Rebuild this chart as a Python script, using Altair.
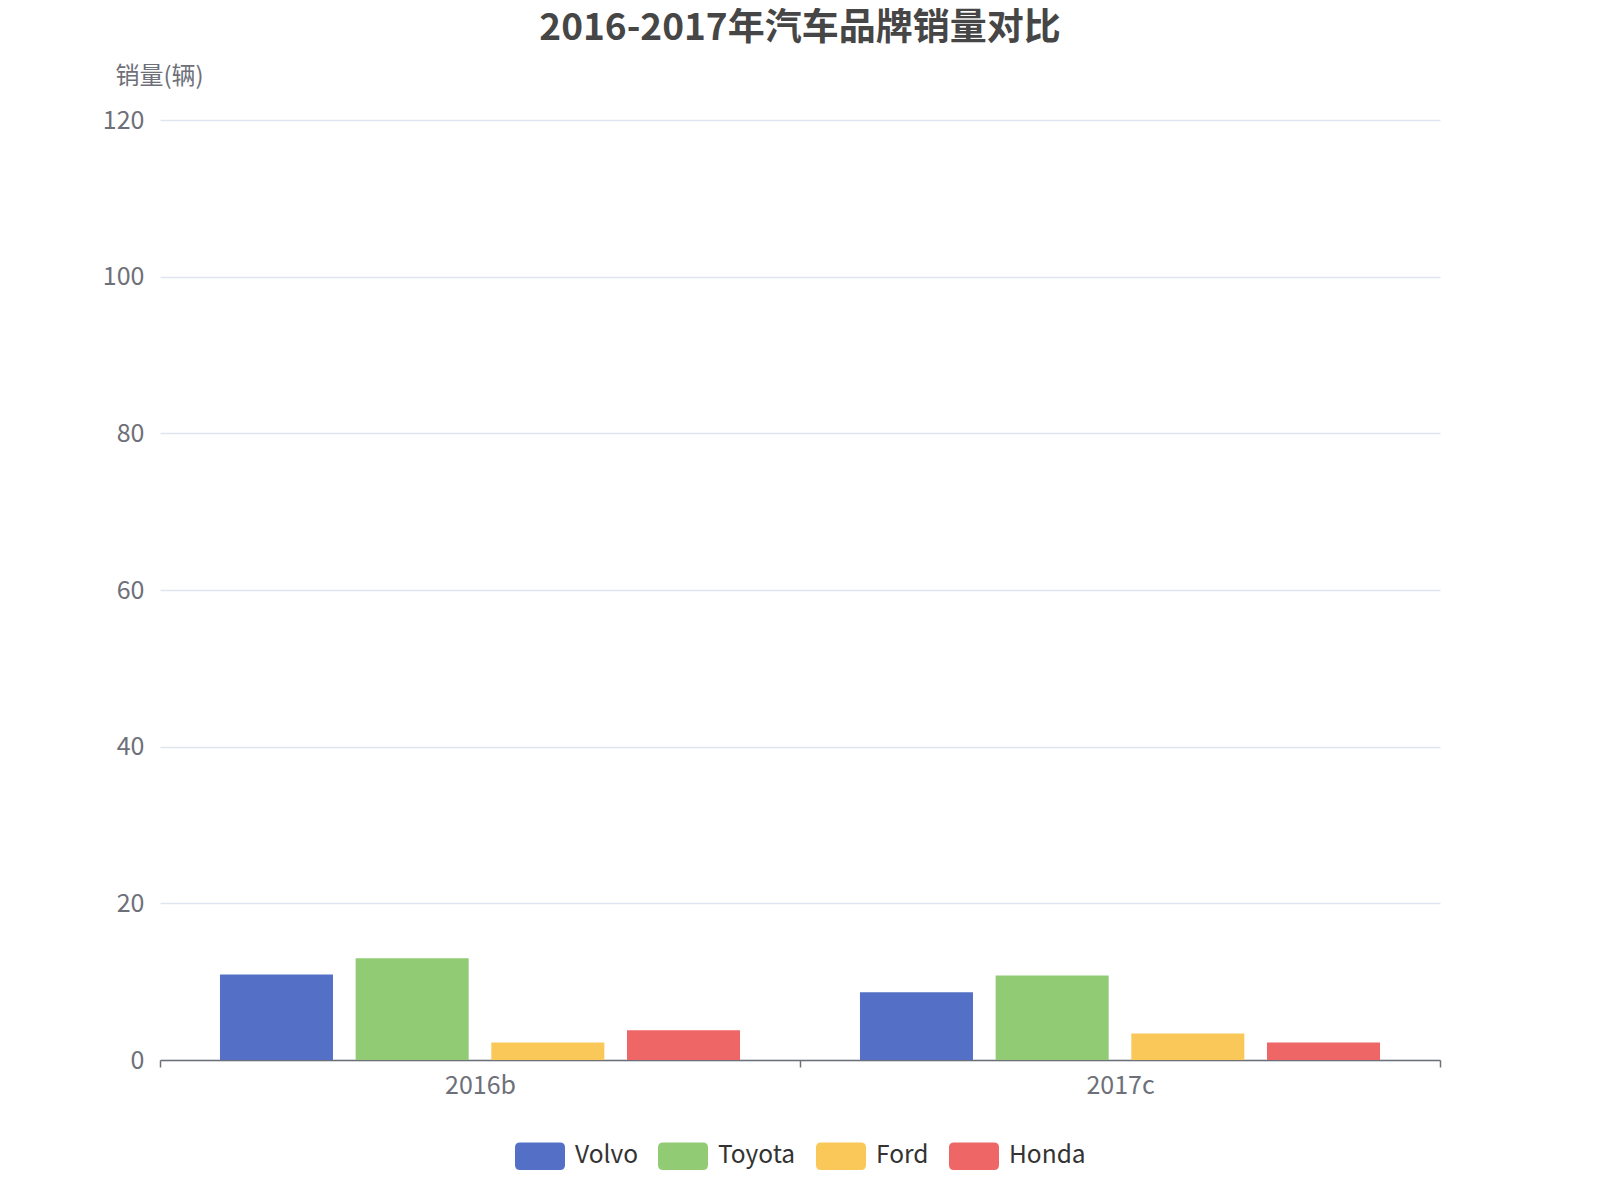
import altair as alt
import pandas as pd

years = ["2016b", "2017c"]
brands = ["Volvo", "Toyota", "Ford", "Honda"]
colors = ["#5470c6", "#91cc75", "#fac858", "#ee6666"]
sales_2016b = [10.9, 13.0, 2.24, 3.8]
sales_2017c = [8.65, 10.8, 3.38, 2.24]

rows = []
for y, vals in zip(years, [sales_2016b, sales_2017c]):
    for b, v in zip(brands, vals):
        rows.append({"year": y, "brand": b, "sales": v})
df = pd.DataFrame(rows)

FONT = "Noto Sans CJK SC"
rounded = ("M-0.8,-0.55 L0.8,-0.55 Q1,-0.55 1,-0.35 L1,0.35 Q1,0.55 0.8,0.55 "
           "L-0.8,0.55 Q-1,0.55 -1,0.35 L-1,-0.35 Q-1,-0.55 -0.8,-0.55 Z")

chart = alt.Chart(df).mark_bar().encode(
    x=alt.X("year:N", sort=years,
            scale=alt.Scale(paddingInner=0, paddingOuter=0),
            axis=alt.Axis(title=None, labelAngle=0, labelFontSize=25, labelColor="#6e7079",
                          labelFont=FONT, labelPadding=6, domainColor="#6e7079", domainWidth=1.5,
                          tickColor="#6e7079", tickSize=7, tickWidth=1.5, tickBand="extent",
                          grid=False)),
    xOffset=alt.XOffset("brand:N", sort=brands,
                        scale=alt.Scale(paddingInner=0.167, paddingOuter=0.442)),
    y=alt.Y("sales:Q", scale=alt.Scale(domain=[0, 120]),
            axis=alt.Axis(title="销量(辆)", values=[0, 20, 40, 60, 80, 100, 120],
                          titleAngle=0, titleX=-1, titleY=-44, titleAlign="center",
                          titleBaseline="middle", titleFontSize=24, titleFontWeight="normal",
                          titleColor="#6e7079", titleFont=FONT,
                          labelFontSize=25, labelColor="#6e7079", labelFont=FONT,
                          labelPadding=16, domain=False, ticks=False,
                          gridColor="#dfe5f0", gridWidth=1.5)),
    color=alt.Color("brand:N", sort=brands,
                    scale=alt.Scale(domain=brands, range=colors),
                    legend=alt.Legend(title=None, orient="none", direction="horizontal",
                                      legendX=355, legendY=1011,
                                      symbolType=rounded, symbolSize=2500, symbolOpacity=1,
                                      symbolStrokeWidth=0,
                                      labelFontSize=24.5, labelColor="#333333", labelFont=FONT,
                                      labelOffset=10, columnPadding=20)),
).properties(
    width=1280, height=940,
    title=alt.TitleParams("2016-2017年汽车品牌销量对比", anchor="middle", fontSize=37,
                          fontWeight="bold", color="#464646", font=FONT, offset=16),
    padding={"left": 152, "top": 112, "right": 140, "bottom": 120},
    autosize=alt.AutoSizeParams(type="none"),
).configure_view(stroke=None)

chart.save("out.html", embed_options={"renderer": "svg", "actions": False})
